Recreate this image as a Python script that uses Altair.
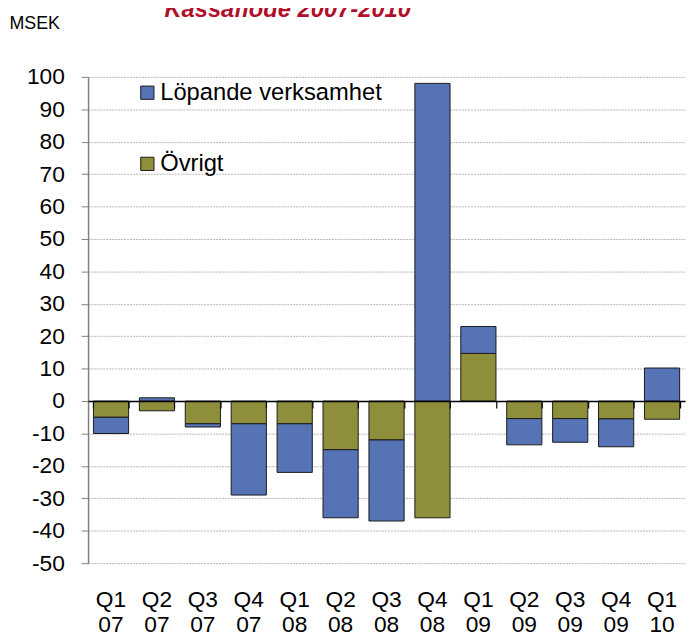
import altair as alt
import pandas as pd

quarters = ["Q1 07", "Q2 07", "Q3 07", "Q4 07", "Q1 08", "Q2 08", "Q3 08",
            "Q4 08", "Q1 09", "Q2 09", "Q3 09", "Q4 09", "Q1 10"]
lopande = [-5, 1, -1, -22, -15, -21, -25, 98, 8.3, -8.1, -7.3, -8.6, 10.2]
ovrigt = [-5, -3, -7, -7, -7, -15, -12, -36, 14.7, -5.4, -5.4, -5.5, -5.6]
series = ["Löpande verksamhet", "Övrigt"]
colors = ["#5573B5", "#8E8E3B"]
y_ticks = [-50, -40, -30, -20, -10, 0, 10, 20, 30, 40, 50, 60, 70, 80, 90, 100]
title_text = ["Kassaflöde 2007-2010"]

rows = []
for i, q in enumerate(quarters):
    rows.append({"kvartal": q, "serie": series[1], "varde": ovrigt[i], "ordning": 0})
    rows.append({"kvartal": q, "serie": series[0], "varde": lopande[i], "ordning": 1})
df = pd.DataFrame(rows)

FONT = "Liberation Sans"

xscale = alt.Scale(paddingInner=0.234, paddingOuter=0.117)
yscale = alt.Scale(domain=[-50, 100], nice=False, zero=False)
y_axis = alt.Axis(values=y_ticks, tickCount=16, title="MSEK",
                  titleAngle=0, titleAlign="left",
                  titleBaseline="alphabetic", titleX=-80, titleY=-49,
                  titleFont=FONT, titleFontSize=18,
                  titleFontWeight="normal", titleColor="black",
                  labelFont=FONT, labelFontSize=23, labelColor="black",
                  labelOverlap=False, labelExpr="'' + datum.value",
                  labelPadding=17, tickSize=7, tickColor="#7f7f7f",
                  domainColor="#7f7f7f", domainWidth=1.5,
                  grid=True, gridColor="#b5b5b5", gridDash=[2, 1],
                  gridWidth=1)

bars = alt.Chart(df).mark_bar(stroke="#1a1a1a", strokeWidth=1).encode(
    x=alt.X("kvartal:N", sort=quarters, scale=xscale,
            axis=alt.Axis(orient="bottom", title=None, ticks=False, domain=False,
                          grid=False, labelAngle=0, labelFontSize=23,
                          labelFont=FONT, labelColor="black", labelPadding=26,
                          labelLineHeight=25, labelBaseline="top",
                          labelExpr="split(datum.label, ' ')")),
    y=alt.Y("varde:Q", stack="zero", scale=yscale, axis=y_axis),
    color=alt.Color("serie:N",
                    scale=alt.Scale(domain=series, range=colors),
                    legend=alt.Legend(title=None, orient="none", legendX=48,
                                      legendY=4, symbolType="square",
                                      symbolSize=180, symbolStrokeColor="#1a1a1a",
                                      symbolStrokeWidth=1, labelFont=FONT,
                                      labelFontSize=24, labelColor="black",
                                      labelLimit=400,
                                      labelOffset=1, rowPadding=48, padding=0)),
    order=alt.Order("ordning:Q"),
)

zero_axis = alt.Chart(df).mark_bar(opacity=0).encode(
    x=alt.X("kvartal:N", sort=quarters, scale=xscale,
            axis=alt.Axis(orient="bottom", title=None, labels=False, grid=False,
                          offset=-164, tickBand="extent", tickSize=7,
                          tickColor="black", tickWidth=1.2, domainColor="black",
                          domainWidth=1.5, zindex=1)),
    y=alt.Y("varde:Q", stack="zero", scale=yscale, axis=y_axis),
)

title_layer = alt.Chart(pd.DataFrame({"titel": title_text})).mark_text(
    font=FONT, fontSize=24, fontStyle="italic", fontWeight="bold",
    color="#B2102A", align="center", baseline="alphabetic",
).encode(
    text="titel:N",
    x=alt.value(202),
    y=alt.value(-61),
)

chart = alt.layer(bars, zero_axis, title_layer).resolve_axis(
    x="independent"
).properties(
    width=604,
    height=492,
    padding={"left": 81, "top": 66, "right": 1, "bottom": 70},
    autosize=alt.AutoSizeParams(type="none"),
).configure_view(stroke=None)

chart.save("out.html", embed_options={"renderer": "svg", "actions": False})
